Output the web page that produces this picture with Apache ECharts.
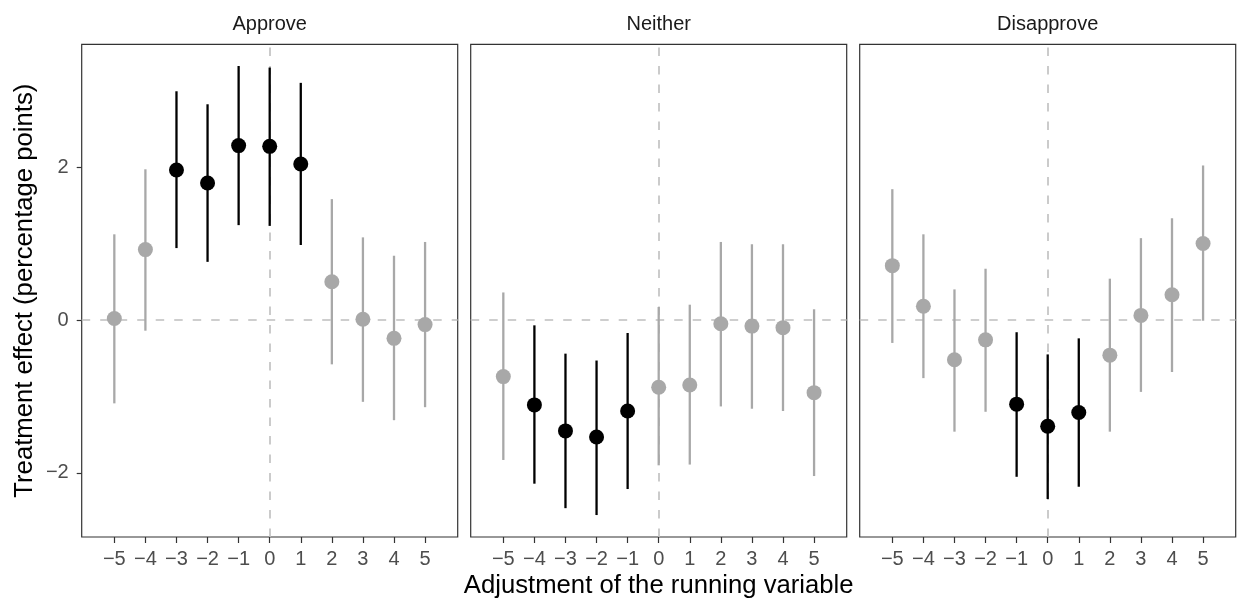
<!DOCTYPE html>
<html>
<head>
<meta charset="utf-8">
<script src="https://cdn.jsdelivr.net/npm/echarts@6/dist/echarts.min.js"></script>
<style>
html,body{margin:0;padding:0;background:#fff;}
#chart{width:1238px;height:604px;}
</style>
</head>
<body>
<div id="chart"></div>
<script>
// ---- data ----
const panelNames = ['Approve', 'Neither', 'Disapprove'];
const xValues = [-5, -4, -3, -2, -1, 0, 1, 2, 3, 4, 5];
const xTicks = [-5, -4, -3, -2, -1, 0, 1, 2, 3, 4, 5];
const yTicks = [-2, 0, 2];

const approveEst = [0.02, 0.92, 1.96, 1.79, 2.28, 2.27, 2.04, 0.50, 0.01, -0.24, -0.06];
const approveLo  = [-1.09, -0.14, 0.94, 0.76, 1.24, 1.23, 0.98, -0.58, -1.07, -1.31, -1.14];
const approveHi  = [1.12, 1.97, 2.99, 2.82, 3.32, 3.30, 3.10, 1.58, 1.08, 0.84, 1.02];
const approveSig = [0, 0, 1, 1, 1, 1, 1, 0, 0, 0, 0];

const neitherEst = [-0.74, -1.11, -1.45, -1.53, -1.19, -0.88, -0.85, -0.05, -0.08, -0.10, -0.95];
const neitherLo  = [-1.83, -2.14, -2.46, -2.55, -2.21, -1.90, -1.89, -1.13, -1.16, -1.19, -2.04];
const neitherHi  = [0.36, -0.07, -0.44, -0.53, -0.17, 0.17, 0.20, 1.02, 0.99, 0.99, 0.14];
const neitherSig = [0, 1, 1, 1, 1, 0, 0, 0, 0, 0, 0];

const disapproveEst = [0.71, 0.18, -0.52, -0.26, -1.10, -1.39, -1.21, -0.46, 0.06, 0.33, 1.00];
const disapproveLo  = [-0.30, -0.76, -1.46, -1.20, -2.05, -2.34, -2.18, -1.46, -0.94, -0.68, -0.01];
const disapproveHi  = [1.71, 1.12, 0.40, 0.67, -0.16, -0.45, -0.24, 0.54, 1.07, 1.33, 2.02];
const disapproveSig = [0, 0, 0, 0, 1, 1, 1, 0, 0, 0, 0];

// ---- styles ----
const FONT = "'Liberation Sans', Arial, Helvetica, sans-serif";
const BLACK = '#000000';
const GREY = '#A8A8A8';
const REF = '#BFBFBF';
const BORDER = '#333333';
const TICKTXT = '#4D4D4D';

const panels = [
  {est: approveEst, lo: approveLo, hi: approveHi, sig: approveSig},
  {est: neitherEst, lo: neitherLo, hi: neitherHi, sig: neitherSig},
  {est: disapproveEst, lo: disapproveLo, hi: disapproveHi, sig: disapproveSig}
];

const gridLefts = [81.7, 470.7, 859.7];
const gridTop = 44.3, gridW = 376, gridH = 492.7;
const X_MIN = -6.05, X_MAX = 6.05, Y_MIN = -2.837, Y_MAX = 3.604;

const fmt = v => (v < 0 ? '\u2212' + Math.abs(v) : String(v));

const grid = [], xAxis = [], yAxis = [], series = [], graphic = [];

panels.forEach((p, i) => {
  grid.push({left: gridLefts[i], top: gridTop, width: gridW, height: gridH,
    show: true, borderColor: BORDER, borderWidth: 1.2, backgroundColor: '#fff'});
  xAxis.push({type: 'value', gridIndex: i, min: X_MIN, max: X_MAX, position: 'bottom',
    splitLine: {show: false}, axisLine: {show: false, onZero: false},
    axisTick: {show: true, length: 6, customValues: xTicks, lineStyle: {color: BORDER, width: 1.2}},
    axisLabel: {show: true, customValues: xTicks, formatter: fmt, margin: 12,
      fontSize: 20, fontFamily: FONT, color: TICKTXT}});
  yAxis.push({type: 'value', gridIndex: i, min: Y_MIN, max: Y_MAX, position: 'left',
    splitLine: {show: false}, axisLine: {show: false, onZero: false},
    axisTick: {show: i === 0, length: 5, customValues: yTicks, lineStyle: {color: BORDER, width: 1.2}},
    axisLabel: {show: i === 0, customValues: yTicks, formatter: fmt, margin: 13,
      fontSize: 20, fontFamily: FONT, color: TICKTXT}});

  const barData = xValues.map((x, k) => [x, p.lo[k], p.hi[k], p.sig[k]]);
  series.push({
    type: 'custom', xAxisIndex: i, yAxisIndex: i, z: 2,
    data: barData,
    encode: {x: 0, y: [1, 2]},
    renderItem: function (params, api) {
      const x = api.value(0), lo = api.value(1), hi = api.value(2), s = api.value(3);
      const a = api.coord([x, lo]), b = api.coord([x, hi]);
      return {type: 'line', shape: {x1: a[0], y1: a[1], x2: b[0], y2: b[1]},
        style: {stroke: s ? BLACK : GREY, lineWidth: 2.3, lineCap: 'butt'}};
    },
    markLine: {
      z: 1, silent: true, symbol: ['none', 'none'], label: {show: false},
      lineStyle: {color: REF, width: 1.6, type: [8.5, 10], opacity: 1},
      emphasis: {disabled: true},
      data: [{xAxis: 0}, {yAxis: 0}]
    }
  });
  series.push({
    type: 'scatter', xAxisIndex: i, yAxisIndex: i, z: 3,
    symbol: 'circle', symbolSize: 15,
    itemStyle: {opacity: 1},
    emphasis: {disabled: true},
    data: xValues.map((x, k) => ({value: [x, p.est[k]], itemStyle: {color: p.sig[k] ? BLACK : GREY, opacity: 1}}))
  });

  graphic.push({type: 'text', x: gridLefts[i] + gridW / 2, y: 24,
    style: {text: panelNames[i], font: '20px ' + FONT, fill: '#1A1A1A', align: 'center', verticalAlign: 'middle'}});
});

graphic.push({type: 'text', x: (gridLefts[0] + gridLefts[2] + gridW) / 2, y: 586,
  style: {text: 'Adjustment of the running variable', font: '25.7px ' + FONT, fill: '#000', align: 'center', verticalAlign: 'middle'}});
graphic.push({type: 'text', x: 24.5, y: gridTop + gridH / 2, rotation: Math.PI / 2,
  style: {text: 'Treatment effect (percentage points)', font: '25.7px ' + FONT, fill: '#000', align: 'center', verticalAlign: 'middle'}});

const chart = echarts.init(document.getElementById('chart'), null, {renderer: 'canvas'});
chart.setOption({animation: false, backgroundColor: '#fff', grid, xAxis, yAxis, series, graphic});
</script>
</body>
</html>
